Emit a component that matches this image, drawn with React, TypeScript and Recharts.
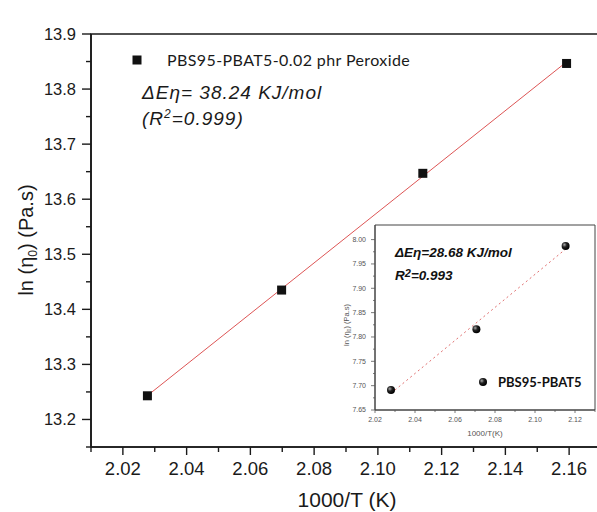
import React from "react";
import { ScatterChart, Scatter, XAxis, YAxis, ReferenceArea } from "recharts";

// main plot: PBS95-PBAT5-0.02 phr Peroxide
const peroxideT = [2.0277, 2.0698, 2.1141, 2.1592];
const peroxideLnEta = [13.243, 13.435, 13.647, 13.8465];

// inset: PBS95-PBAT5
const neatT = [2.028, 2.0707, 2.1153];
const neatLnEta = [7.691, 7.816, 7.987];

const mainXMajor = [2.02, 2.04, 2.06, 2.08, 2.1, 2.12, 2.14, 2.16];
const mainXMinor = [2.01, 2.03, 2.05, 2.07, 2.09, 2.11, 2.13, 2.15, 2.17];
const mainYMajor = [13.2, 13.3, 13.4, 13.5, 13.6, 13.7, 13.8, 13.9];
const mainYMinor = [13.15, 13.25, 13.35, 13.45, 13.55, 13.65, 13.75, 13.85];

const insetXMajor = [2.02, 2.04, 2.06, 2.08, 2.1, 2.12];
const insetXMinor = [2.03, 2.05, 2.07, 2.09, 2.11, 2.13];
const insetYMajor = [7.65, 7.7, 7.75, 7.8, 7.85, 7.9, 7.95, 8.0];
const insetYMinor = [7.675, 7.725, 7.775, 7.825, 7.875, 7.925, 7.975];

const peroxideData = peroxideT.map((x, i) => ({ x, y: peroxideLnEta[i] }));
const neatData = neatT.map((x, i) => ({ x, y: neatLnEta[i] }));

const sorted = (a: number[], b: number[]) => [...a, ...b].sort((p, q) => p - q);
const isIn = (list: number[], v: number) => list.some((m) => Math.abs(m - v) < 1e-6);

const ARIAL = "'Liberation Sans', Arial, sans-serif";

type TickOpts = {
  major: number[];
  len: number;
  minorLen: number;
  offset: number;
  fontSize: number;
  color: string;
  width: number;
  digits: number;
};

function yTick(o: TickOpts) {
  return (props: any) => {
    const { x, y, payload } = props;
    const major = isIn(o.major, payload.value);
    return (
      <g>
        <line x1={x - (major ? o.len : o.minorLen)} x2={x} y1={y} y2={y} stroke={o.color} strokeWidth={o.width} />
        {major && (
          <text x={x - o.offset} y={y} dy="0.35em" textAnchor="end" fontSize={o.fontSize} fill={o.color} fontFamily={ARIAL}>
            {payload.value.toFixed(o.digits)}
          </text>
        )}
      </g>
    );
  };
}

function xTick(o: TickOpts) {
  return (props: any) => {
    const { x, y, payload } = props;
    const major = isIn(o.major, payload.value);
    return (
      <g>
        <line x1={x} x2={x} y1={y} y2={y + (major ? o.len : o.minorLen)} stroke={o.color} strokeWidth={o.width} />
        {major && (
          <text x={x} y={y + o.offset} textAnchor="middle" fontSize={o.fontSize} fill={o.color} fontFamily={ARIAL}>
            {payload.value.toFixed(o.digits)}
          </text>
        )}
      </g>
    );
  };
}

const squareShape = (props: any) => (
  <rect x={props.cx - 4.5} y={props.cy - 4.5} width={9} height={9} fill="#111" />
);

const sphereShape = (props: any) => (
  <g>
    <defs>
      <radialGradient id={`ball${props.index}`} cx="35%" cy="35%" r="65%">
        <stop offset="0%" stopColor="#aaa" />
        <stop offset="45%" stopColor="#222" />
        <stop offset="100%" stopColor="#000" />
      </radialGradient>
    </defs>
    <circle cx={props.cx} cy={props.cy} r={4} fill={`url(#ball${props.index})`} />
  </g>
);

function InsetChart() {
  return (
    <div style={{ position: "absolute", left: 330, top: 215 }}>
      <ScatterChart width={267} height={230} margin={{ top: 10, right: 2, left: 0, bottom: 0 }}>
        <XAxis
          type="number"
          dataKey="x"
          domain={[2.02, 2.13]}
          allowDataOverflow
          ticks={sorted(insetXMajor, insetXMinor)}
          interval={0}
          height={35}
          tickSize={0}
          tickMargin={0}
          axisLine={{ stroke: "#444", strokeWidth: 1 }}
          tick={xTick({ major: insetXMajor, len: 3, minorLen: 2, offset: 11.5, fontSize: 7, color: "#555", width: 0.8, digits: 2 })}
        />
        <YAxis
          type="number"
          dataKey="y"
          domain={[7.65, 8.03]}
          allowDataOverflow
          ticks={sorted(insetYMajor, insetYMinor)}
          interval={0}
          width={45}
          tickSize={0}
          tickMargin={0}
          axisLine={{ stroke: "#444", strokeWidth: 1 }}
          tick={yTick({ major: insetYMajor, len: 4, minorLen: 2, offset: 9, fontSize: 7, color: "#555", width: 0.8, digits: 2 })}
        />
        <ReferenceArea x1={2.02} x2={2.13} y1={7.65} y2={8.03} fill="none" stroke="#444" strokeWidth={1} />
        <Scatter
          data={neatData}
          line={{ stroke: "#e07070", strokeWidth: 1, strokeDasharray: "2 3" }}
          lineType="fitting"
          shape={sphereShape}
          isAnimationActive={false}
        />
      </ScatterChart>
    </div>
  );
}

export default function App() {
  return (
    <div style={{ position: "absolute", left: 0, top: 0, width: 597, height: 512, overflow: "hidden", background: "#fff" }}>
      <ScatterChart width={610} height={512} margin={{ top: 34, right: 9, left: 0, bottom: 0 }}>
        <XAxis
          type="number"
          dataKey="x"
          domain={[2.01, 2.17]}
          allowDataOverflow
          ticks={sorted(mainXMajor, mainXMinor)}
          interval={0}
          height={65}
          tickSize={0}
          tickMargin={0}
          axisLine={{ stroke: "#1a1a1a", strokeWidth: 1.6 }}
          tick={xTick({ major: mainXMajor, len: 8, minorLen: 5, offset: 28, fontSize: 18.5, color: "#1a1a1a", width: 1.4, digits: 2 })}
        />
        <YAxis
          type="number"
          dataKey="y"
          domain={[13.15, 13.9]}
          allowDataOverflow
          ticks={sorted(mainYMajor, mainYMinor)}
          interval={0}
          width={91}
          tickSize={0}
          tickMargin={0}
          axisLine={{ stroke: "#1a1a1a", strokeWidth: 1.6 }}
          tick={yTick({ major: mainYMajor, len: 9, minorLen: 5, offset: 15, fontSize: 16.5, color: "#1a1a1a", width: 1.4, digits: 1 })}
        />
        <ReferenceArea x1={2.01} x2={2.17} y1={13.15} y2={13.9} fill="none" stroke="#1a1a1a" strokeWidth={1.6} />
        <Scatter
          data={peroxideData}
          line={{ stroke: "#dd5555", strokeWidth: 1 }}
          lineType="fitting"
          shape={squareShape}
          isAnimationActive={false}
        />
      </ScatterChart>

      <svg width={597} height={512} style={{ position: "absolute", left: 0, top: 0, pointerEvents: "none" }}>
        {/* main legend + annotation */}
        <rect x={132.5} y={55.5} width={9} height={9} fill="#111" />
        <text x={167} y={66} fontSize={16} letterSpacing={0.4} fontFamily="Lato, sans-serif" fill="#1a1a1a">
          PBS95-PBAT5-0.02 phr Peroxide
        </text>
        <text x={142} y={99} fontSize={19} letterSpacing={1} fontStyle="italic" fontFamily={ARIAL} fill="#1a1a1a">
          ΔEη= 38.24 KJ/mol
        </text>
        <text x={142} y={125} fontSize={19} letterSpacing={1} fontStyle="italic" fontFamily={ARIAL} fill="#1a1a1a">
          (R<tspan dy={-7} fontSize={12}>2</tspan>
          <tspan dy={7}>=0.999)</tspan>
        </text>

        {/* main axis titles */}
        <text x={347} y={507} textAnchor="middle" fontSize={21} fontFamily={ARIAL} fill="#1a1a1a">
          1000/T (K)
        </text>
        <text transform="translate(33,240) rotate(-90)" textAnchor="middle" fontSize={20} fontFamily={ARIAL} fill="#1a1a1a">
          ln (η<tspan dy={4} fontSize={12}>0</tspan>
          <tspan dy={-4}>) (Pa.s)</tspan>
        </text>
      </svg>

      <InsetChart />

      <svg width={597} height={512} style={{ position: "absolute", left: 0, top: 0, pointerEvents: "none" }}>
        {/* inset annotations */}
        <text x={395} y={257} fontSize={13.5} fontWeight="bold" fontStyle="italic" fontFamily={ARIAL} fill="#111">
          ΔEη=28.68 KJ/mol
        </text>
        <text x={395} y={280} fontSize={13.5} fontWeight="bold" fontStyle="italic" fontFamily={ARIAL} fill="#111">
          R<tspan dy={-3} fontSize={11}>2</tspan>
          <tspan dy={3}>=0.993</tspan>
        </text>
        <defs>
          <radialGradient id="legendBall" cx="35%" cy="35%" r="65%">
            <stop offset="0%" stopColor="#aaa" />
            <stop offset="45%" stopColor="#222" />
            <stop offset="100%" stopColor="#000" />
          </radialGradient>
        </defs>
        <circle cx={483} cy={382} r={4} fill="url(#legendBall)" />
        <text x={498} y={386.5} fontSize={13} fontWeight="bold" fontFamily="Lato, sans-serif" fill="#111">
          PBS95-PBAT5
        </text>
        <text x={485} y={436} textAnchor="middle" fontSize={8} fontFamily={ARIAL} fill="#555">
          1000/T(K)
        </text>
        <text transform="translate(349,325) rotate(-90)" textAnchor="middle" fontSize={7.5} fontFamily={ARIAL} fill="#555">
          ln (η<tspan dy={2} fontSize={5}>0</tspan>
          <tspan dy={-2}>) (Pa.s)</tspan>
        </text>
      </svg>
    </div>
  );
}
